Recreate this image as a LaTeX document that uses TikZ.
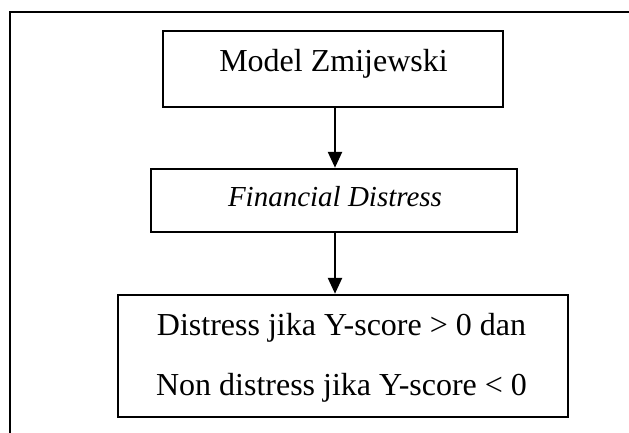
\documentclass[tikz,border=0pt]{standalone}
\usepackage{fontspec}
\setmainfont{Liberation Serif}
\usetikzlibrary{arrows.meta}
\tikzset{
  boxshape/.style={draw=black, line width=2.5pt, rectangle, inner sep=0pt},
  txt/.style={anchor=base, inner sep=0pt, font=\fontsize{32}{38}\selectfont},
  itxt/.style={anchor=base, inner sep=0pt, font=\fontsize{29}{35}\selectfont\itshape},
  conn/.style={line width=2.5pt, -{Triangle[length=16pt,width=14pt]}},
}
\begin{document}
\begin{tikzpicture}[x=1pt,y=-1pt]
\useasboundingbox (0,0) rectangle (629,432);
% outer frame (cropped on right and bottom)
\draw[line width=2.5pt] (10,440) -- (10,12) -- (640,12);
% boxes
\node[boxshape, minimum width=340pt, minimum height=76pt] (b1) at (333,69) {};
\node[boxshape, minimum width=366pt, minimum height=63pt] (b2) at (334,200.5) {};
\node[boxshape, minimum width=450pt, minimum height=122pt] (b3) at (343,356) {};
% texts
\node[txt] (t1) at (333.5,71) {Model Zmijewski};
\node[itxt] (t2) at (335,206) {Financial Distress};
\node[txt] (t3) at (341.5,335) {Distress jika Y-score > 0 dan};
\node[txt] (t4) at (341.5,395) {Non distress jika Y-score < 0};
% connectors
\draw[conn] (b1.south -| 335,0) -- (b2.north -| 335,0);
\draw[conn] (b2.south -| 335,0) -- (b3.north -| 335,0);
\end{tikzpicture}
\end{document}
